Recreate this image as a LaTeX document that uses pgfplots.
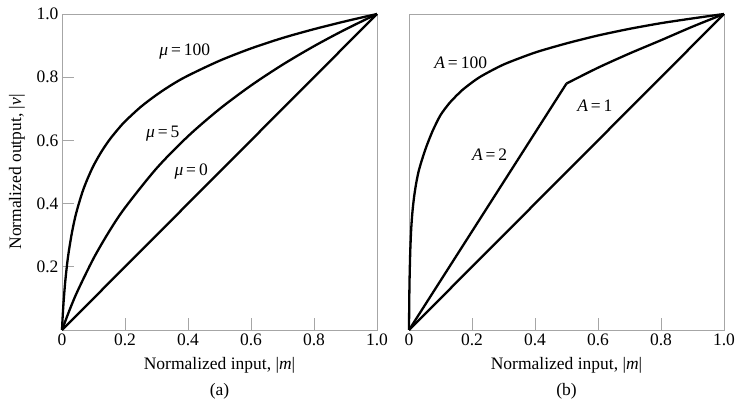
\documentclass[border=0pt]{standalone}
\usepackage{pgfplots}
\pgfplotsset{compat=1.18}
\usepackage{fontspec}
\setmainfont{Liberation Serif}
\begin{document}
\begin{tikzpicture}[font=\fontsize{17.5}{21}\selectfont]
\useasboundingbox (-62pt,-74pt) rectangle (673pt,330pt);
\pgfplotsset{
  panel/.style={
    scale only axis, width=315pt, height=316pt,
    xmin=0, xmax=1, ymin=0, ymax=1,
    axis line style={draw=black!35, line width=0.8pt},
    tick style={draw=black!35, line width=0.8pt},
    major tick length=12pt, tick align=inside,
    xtick={0,0.2,0.4,0.6,0.8,1}, xticklabels={0,0.2,0.4,0.6,0.8,1.0},
    xtick pos=bottom, ytick pos=left,
    /pgf/number format/assume math mode=true,
    tick label style={font=\fontsize{17.5}{21}\selectfont},
    xlabel style={at={(axis description cs:0.5,0)}, anchor=base, yshift=-39pt},
    clip=false,
  },
  curve/.style={black, line width=2.3pt, line join=round, no markers},
}
\begin{axis}[panel, at={(0pt,0pt)}, anchor=south west,
  ytick={0.2,0.4,0.6,0.8,1}, yticklabels={0.2,0.4,0.6,0.8,1.0},
  xlabel={Normalized input, |\textit{m}|}]
\addplot[curve] coordinates {(0,0)(1,1)};
\addplot[curve, smooth, tension=0.5] coordinates {(0,0)(0.025,0.0657)(0.05,0.1245)(0.1,0.2263)(0.15,0.3123)(0.2,0.3869)(0.3,0.5114)(0.4,0.6131)(0.5,0.6992)(0.6,0.7737)(0.7,0.8394)(0.8,0.8982)(0.9,0.9514)(1,1)};
\addplot[curve, smooth, tension=0.5] coordinates {(0,0)(0.002,0.040)(0.005,0.088)(0.01,0.150)(0.015,0.198)(0.02,0.238)(0.03,0.300)(0.04,0.349)(0.05,0.388)(0.065,0.437)(0.08,0.476)(0.1,0.520)(0.125,0.564)(0.15,0.601)(0.175,0.632)(0.2,0.660)(0.25,0.706)(0.3,0.744)(0.35,0.777)(0.4,0.805)(0.5,0.852)(0.6,0.891)(0.7,0.924)(0.8,0.952)(0.9,0.977)(1,1)};
\node at (axis cs:0.39,0.88) {\textit{μ}\,=\,100};
\node at (axis cs:0.32,0.62) {\textit{μ}\,=\,5};
\node at (axis cs:0.41,0.50) {\textit{μ}\,=\,0};
\node at (axis description cs:0.5,0) [anchor=base, yshift=-65pt] {(a)};
\node[rotate=90, anchor=center] at ([xshift=-45pt]axis description cs:0,0.5) {Normalized output, |\textit{v}|};
\end{axis}
\begin{axis}[panel, at={(347pt,0pt)}, anchor=south west,
  ytick=\empty,
  xlabel={Normalized input, |\textit{m}|}]
\addplot[curve] coordinates {(0,0)(1,1)};
\addplot[curve] coordinates {(0,0)(0.5,0.78)};
\addplot[curve, smooth, tension=0.5] coordinates {(0.5,0.78)(0.6,0.83)(0.7,0.875)(0.8,0.917)(0.9,0.96)(1,1)};
\addplot[curve, smooth, tension=0.4] coordinates {(0,0)(0.0005,0.06)(0.001,0.11)(0.002,0.17)(0.004,0.25)(0.007,0.32)(0.011,0.375)(0.016,0.42)(0.022,0.46)(0.03,0.5)(0.04,0.535)(0.055,0.58)(0.075,0.63)(0.1,0.68)(0.13,0.72)(0.17,0.76)(0.224,0.80)(0.3,0.84)(0.4,0.878)(0.5,0.907)(0.6,0.932)(0.7,0.953)(0.8,0.971)(0.9,0.986)(1,1)};
\node at (axis cs:0.164,0.845) {\textit{A}\,=\,100};
\node at (axis cs:0.256,0.554) {\textit{A}\,=\,2};
\node at (axis cs:0.59,0.709) {\textit{A}\,=\,1};
\node at (axis description cs:0.5,0) [anchor=base, yshift=-65pt] {(b)};
\end{axis}
\end{tikzpicture}
\end{document}
